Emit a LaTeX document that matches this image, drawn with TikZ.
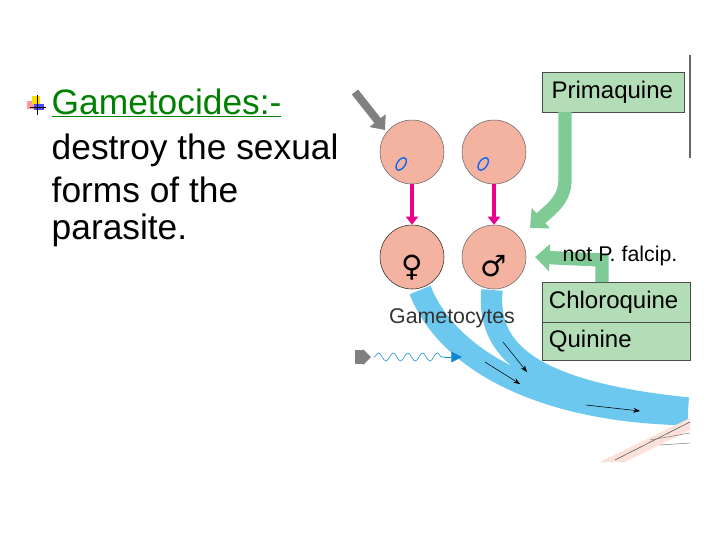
\documentclass[tikz,border=0pt]{standalone}
\usepackage{fontspec}
\setmainfont{Liberation Sans}
\newfontfamily\symf{DejaVu Sans}
\usetikzlibrary{arrows.meta,decorations.pathmorphing,calc}
\definecolor{cell}{HTML}{F4B3A0}
\definecolor{drug}{HTML}{B2DDB6}
\definecolor{darr}{HTML}{7FCB95}
\definecolor{band}{HTML}{6CC8EE}
\definecolor{ggreen}{HTML}{008000}
\tikzset{cellc/.style={circle,draw=black!60,fill=cell,minimum size=64*0.75pt,inner sep=0pt},
drugbox/.style={draw=black!70,fill=drug,anchor=north west,inner sep=0pt,font=\fontsize{18}{18}\selectfont,align=left},
magarr/.style={draw=magenta,line width=3pt,-{Triangle[length=6pt,width=9pt]}},
garr/.style={draw=darr,line width=10pt,-{Triangle[length=11pt,width=20pt]}},
lbl/.style={font=\fontsize{26.5}{30}\selectfont,anchor=west}}
\begin{document}
\begin{tikzpicture}[x=0.75pt,y=-0.75pt]
\useasboundingbox (0,0) rectangle (720,540);
% bands
\draw[band,line width=17pt] (420,290) .. controls (450,365) and (550,412) .. (688,414);
\draw[band,line width=16pt] (492,290) .. controls (486,350) and (530,392) .. (688,408);
\coordinate (ba) at (503,342); \coordinate (bb) at (527,372);
\draw[-{Stealth[length=5pt]},black] (ba) -- (bb);
\coordinate (bc) at (485,362); \coordinate (bd) at (520,384);
\draw[-{Stealth[length=5pt]},black] (bc) -- (bd);
\coordinate (be) at (586,405); \coordinate (bf) at (640,411);
\draw[-{Stealth[length=5pt]},black] (be) -- (bf);
% skin
\fill[cell!40] (600,462) -- (690,418) -- (690,430) -- (625,462) -- cycle;
\draw[black!70] (615,460) -- (690,422);
\draw[black!50] (650,440) -- (690,433);
\draw[black!50] (660,445) -- (690,443);
% cells
\node[cellc] (c1) at (412,152) {};
\node[cellc] (c2) at (494,152) {};
\node[cellc,draw=black!85] (c3) at (412,257) {};
\node[cellc] (c4) at (494,257) {};
\foreach \c in {c1,c2}{\draw[blue!60!cyan,line width=1pt,rotate around={55:($(\c)+(-16,-2)$)}] ($(\c)+(-16,-2)$) ellipse (7 and 4);}
\node[font=\symf\fontsize{22}{22}\selectfont] (fem) at (412,268) {♀};
\node[font=\symf\fontsize{22}{22}\selectfont] (mal) at (494,266) {♂};
\draw[magarr] (c1) -- (c3);
\draw[magarr] (c2) -- (c4);
% gray arrow
\coordinate (ga) at (355,92); \coordinate (gb) at (385,130);
\draw[gray,line width=6pt,-{Triangle[length=9pt,width=15pt]}] (ga) -- (gb);
% boxes
\node[drugbox,minimum width=142*0.75pt,minimum height=40*0.75pt,text width=142*0.75pt] (pq) at (542,72) {\hspace*{7pt}Primaquine};
\node[drugbox,minimum width=148*0.75pt,minimum height=40*0.75pt,text width=148*0.75pt] (cq) at (542,282) {\hspace*{5pt}Chloroquine};
\node[drugbox,minimum width=148*0.75pt,minimum height=38*0.75pt,text width=148*0.75pt] (qn) at (542,322) {\hspace*{5pt}Quinine};
\draw[garr] (565,112) -- (565,180) .. controls (565,200) and (550,210) .. (530,228);
\draw[garr] (602,282) -- (602,260) -- (535,257);
\node[font=\fontsize{16}{16}\selectfont] (npf) at (620,256) {not P. falcip.};
\node[font=\fontsize{16}{16}\selectfont,black!80] (gam) at (452,318) {Gametocytes};
\draw[black!60,line width=1.5pt] (690,55) -- (690,158);
% wavy
\fill[gray] (355,350) rectangle (363,364);
\fill[gray] (363,349) -- (371,357) -- (363,365) -- cycle;
\coordinate (wa) at (374,357); \coordinate (wb) at (445,357); \coordinate (wc) at (462,357);
\draw[cyan!70!blue,decorate,decoration={snake,amplitude=3pt,segment length=11pt}] (wa) -- (wb);
\draw[cyan!70!blue,-{Triangle[length=8pt,width=8pt]}] (wb) -- (wc);
% left text
\fill[red!40] (27,101) rectangle (37,109);
\fill[yellow!80!orange] (32,96) rectangle (40,104);
\fill[blue!70] (34,104) rectangle (44,110);
\draw[black] (37,95) -- (37,115); \draw[black] (30,107) -- (46,107);
\node[lbl,text=ggreen] (t1) at (47,103) {\underline{Gametocides:-}};
\node[lbl] (t2) at (47,150) {destroy the sexual};
\node[lbl] (t3) at (47,190) {forms of the};
\node[lbl] (t4) at (47,230) {parasite.};
\end{tikzpicture}
\end{document}
